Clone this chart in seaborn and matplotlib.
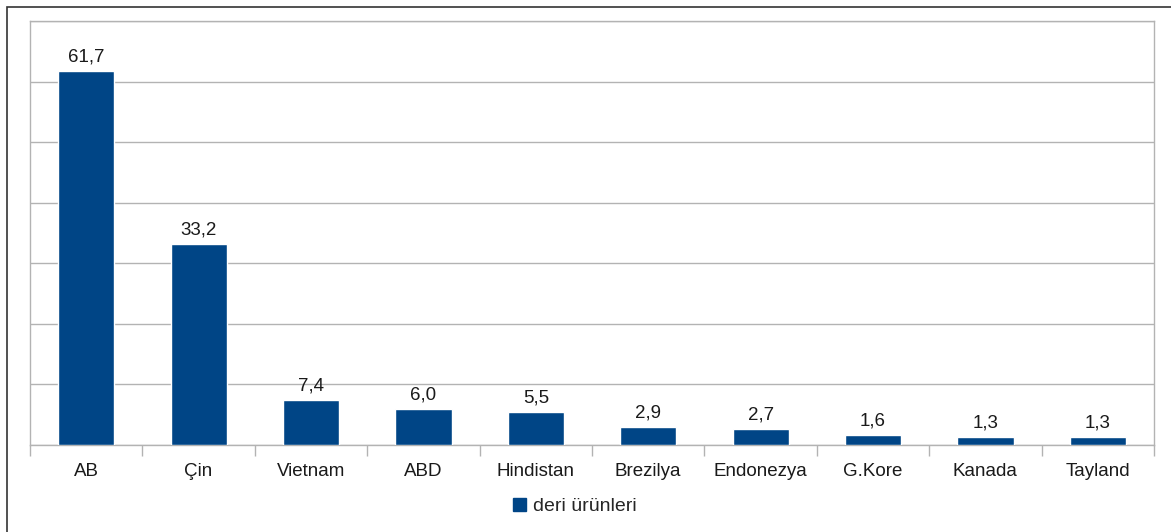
import matplotlib
matplotlib.use("Agg")
import matplotlib.pyplot as plt
import seaborn as sns
import pandas as pd
from matplotlib.patches import Rectangle

countries = ["AB", "Çin", "Vietnam", "ABD", "Hindistan", "Brezilya", "Endonezya", "G.Kore", "Kanada", "Tayland"]
values = [61.7, 33.2, 7.4, 6.0, 5.5, 2.9, 2.7, 1.6, 1.3, 1.3]
series_name = "deri ürünleri"

df = pd.DataFrame({"country": countries, "value": values})

sns.set_theme(style="white")
plt.rcParams["font.family"] = ["Liberation Sans", "DejaVu Sans"]

fig = plt.figure(figsize=(11.71, 5.32), dpi=100)
ax = fig.add_axes([30 / 1171, 87 / 532, 1124 / 1171, 424 / 532])

bar_color = "#004586"
sns.barplot(data=df, x="country", y="value", color=bar_color, width=0.5,
            saturation=1, ax=ax, zorder=3)

ax.set_ylim(0, 70)
ax.set_xlim(-0.5, len(countries) - 0.5)
ax.set_yticks(range(0, 71, 10))
ax.set_yticklabels([])
ax.tick_params(axis="y", length=0)
ax.grid(axis="y", color="#b3b3b3", linewidth=1, zorder=0)
ax.set_xlabel("")
ax.set_ylabel("")

# category boundary ticks
ax.set_xticks([i - 0.5 for i in range(len(countries) + 1)], minor=False)
ax.set_xticklabels([])
ax.tick_params(axis="x", which="major", length=8, width=1, color="#b3b3b3",
               bottom=True, direction="out")
ax.set_xticks(range(len(countries)), minor=True)
ax.set_xticklabels(countries, minor=True, fontsize=13.5, color="#1a1a1a")
ax.tick_params(axis="x", which="minor", length=0, pad=13)

for side in ["left", "right", "top", "bottom"]:
    ax.spines[side].set_color("#b3b3b3")
    ax.spines[side].set_linewidth(1)

ax.bar_label(ax.containers[0],
             labels=[f"{v:.1f}".replace(".", ",") for v in values],
             padding=4, fontsize=13.5, color="#1a1a1a")

handle = Rectangle((0, 0), 1, 1, color=bar_color)
fig.legend([handle], [series_name], loc="center", bbox_to_anchor=(0.491, 0.048),
           frameon=False, fontsize=14, handlelength=0.65, handleheight=0.65,
           handletextpad=0.4)

# outer frame
fig.patches.append(Rectangle((7 / 1171, -0.1), 1.1, (532 - 7) / 532 + 0.1,
                             transform=fig.transFigure, fill=False,
                             edgecolor="#333333", linewidth=1.2))

fig.savefig("out.png", dpi=100)
